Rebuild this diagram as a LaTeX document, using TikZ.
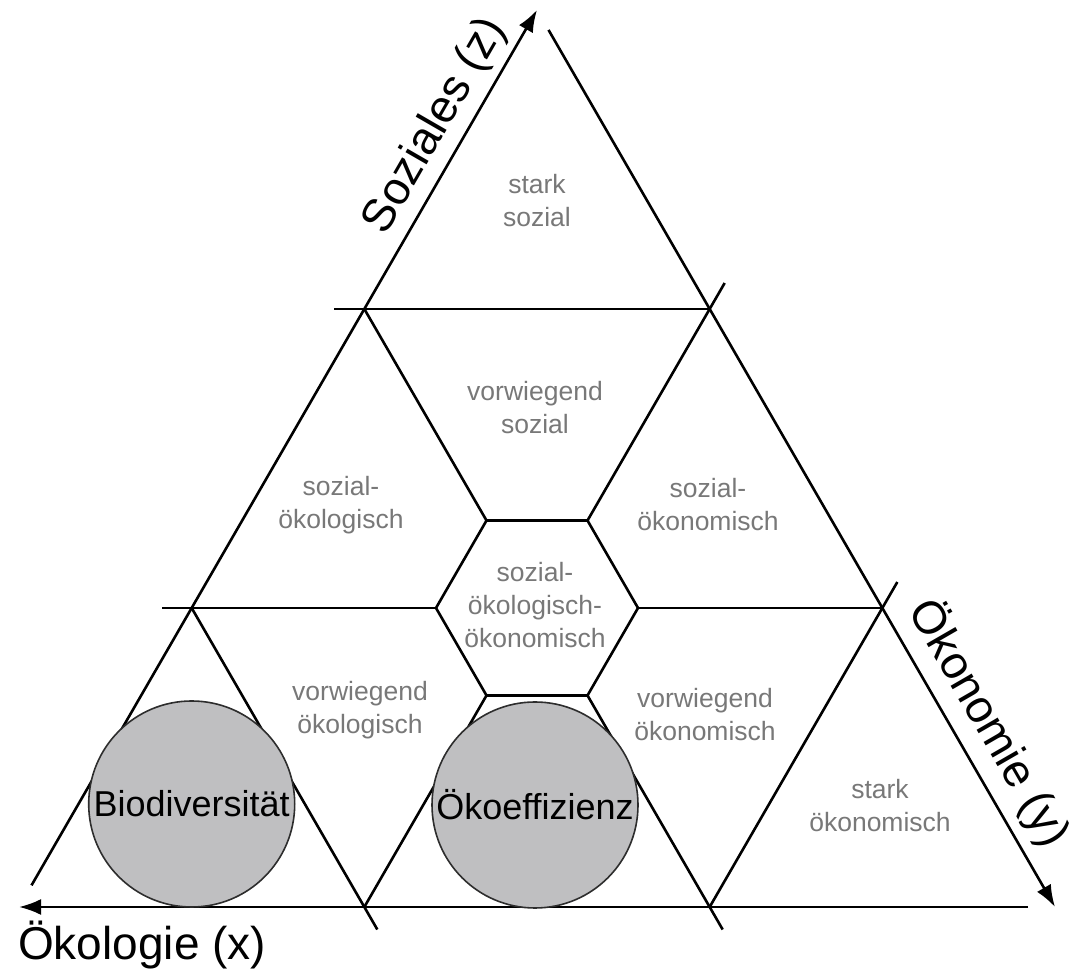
\documentclass[tikz,border=0pt]{standalone}
\usepackage{fontspec}
\setmainfont{Liberation Sans}
\usetikzlibrary{calc}
\usetikzlibrary{arrows.meta}
\definecolor{labelgray}{RGB}{120,120,120}
\definecolor{spotfill}{RGB}{191,191,193}
\definecolor{spotline}{RGB}{45,45,45}
\tikzset{
    gridline/.style={line width=2.6pt, black},
    axisarrow/.style={gridline, -{Latex[length=22pt, width=16pt]}},
    region/.style={text=labelgray, align=center, font=\fontsize{26.5}{33}\selectfont},
    spot/.style={circle, draw=spotline, line width=1.6pt, fill=spotfill, minimum size=206pt, inner sep=0pt, font=\fontsize{36}{40}\selectfont},
    axisname/.style={font=\fontsize{46}{50}\selectfont, inner sep=2pt}
}

\begin{document}
\begin{tikzpicture}[x=1pt, y=1pt]
            \useasboundingbox (0,0) rectangle (1075,973);
            % corners and thirds
            \coordinate (A) at (537,963);
            \coordinate (B) at (19,66);
            \coordinate (C) at (1055,66);
            \coordinate (P1L) at ($(A)!1/3!(B)$);
            \coordinate (P1R) at ($(A)!1/3!(C)$);
            \coordinate (P2L) at ($(A)!2/3!(B)$);
            \coordinate (P2R) at ($(A)!2/3!(C)$);
            \coordinate (P2M) at ($(P2L)!1/2!(P2R)$);
            \coordinate (Q1) at ($(B)!1/3!(C)$);
            \coordinate (Q2) at ($(B)!2/3!(C)$);
            \foreach \a in {0,60,...,300}
                \coordinate (h\a) at ($(P2M)+(\a:101)$);
            % axes
            \draw[axisarrow] ($(B)!25pt!(A)$) -- (A) node[axisname, pos=0.85, sloped, above=5pt] (zlabel) {Soziales (z)};
            \draw[axisarrow] ($(A)!23pt!(C)$) -- (C) node[axisname, pos=0.81, sloped, above=8pt] (ylabel) {Ökonomie (y)};
            \draw[axisarrow] ($(C)!27pt!(B)$) -- (B);
            \node[axisname, anchor=north west, inner sep=0pt] (xlabel) at (18,52) {Ökologie (x)};
            % horizontal lines
            \draw[gridline] (P1R) -- ($(P1L)!-30pt!(P1R)$);
            \draw[gridline] (P2R) -- (h0);
            \draw[gridline] (h180) -- ($(P2L)!-30pt!(P2R)$);
            % rising lines
            \draw[gridline] (h60) -- ($(P1R)!-30pt!(h60)$);
            \draw[gridline] (Q2) -- ($(P2R)!-30pt!(Q2)$);
            \draw[gridline] (Q1) -- (h240);
            % falling lines
            \draw[gridline] (P1L) -- (h120);
            \draw[gridline] (P2L) -- ($(Q1)!-26pt!(P2L)$);
            \draw[gridline] (h300) -- ($(Q2)!-26pt!(h300)$);
            % hexagon
            \draw[gridline] (h0) -- (h60) -- (h120) -- (h180) -- (h240) -- (h300) -- cycle;
            % labels
            \node[region] (starksoz) at (537,772) {stark\\sozial};
            \node[region] (vorwsoz) at (535,565) {vorwiegend\\sozial};
            \node[region] (sozoeko) at (341,468) {sozial-\\ökologisch};
            \node[region] (sozoekon) at (708,468) {sozial-\\ökonomisch};
            \node[region] (mitte) at (535,368) {sozial-\\ökologisch-\\ökonomisch};
            \node[region] (vorwoeko) at (360,263) {vorwiegend\\ökologisch};
            \node[region] (vorwoekon) at (705,258) {vorwiegend\\ökonomisch};
            \node[region] (starkoekon) at (880,167) {stark\\ökonomisch};
            % circles
            \node[spot] (bio) at (191.7,169) {Biodiversität};
            \node[spot] (eff) at (535,168) {Ökoeffizienz};
        \end{tikzpicture}
\end{document}
